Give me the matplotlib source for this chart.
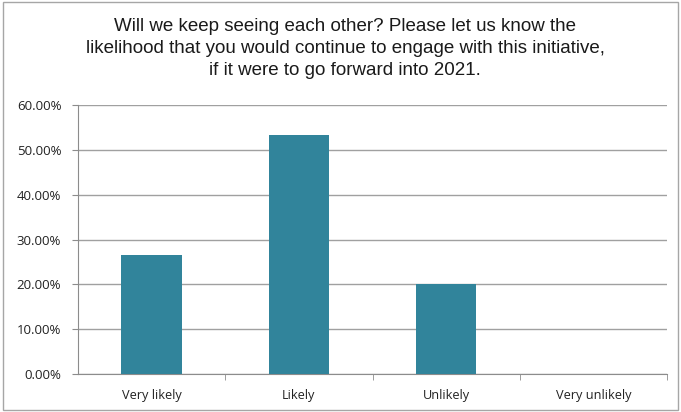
import matplotlib.pyplot as plt
from matplotlib.patches import Rectangle
from matplotlib.ticker import FuncFormatter, MultipleLocator

# Survey responses (share of respondents)
categories = ['Very likely', 'Likely', 'Unlikely', 'Very unlikely']
shares = [0.2667, 0.5333, 0.20, 0.0]

title = ('Will we keep seeing each other? Please let us know the\n'
         'likelihood that you would continue to engage with this initiative,\n'
         'if it were to go forward into 2021.')

fig = plt.figure(figsize=(6.81, 4.12), dpi=100)
ax = fig.add_axes([0.1145, 0.092, 0.865, 0.653])

# Light frame around the whole chart
fig.patches.append(Rectangle((0.004, 0.005), 0.992, 0.99, transform=fig.transFigure,
                             fill=False, edgecolor='#a6a6a6', linewidth=1.0))

fig.text(0.507, 0.882, title, ha='center', va='center', fontsize=13.5,
         family='Liberation Sans', linespacing=1.38, color='#1a1a1a')

x = range(len(categories))
ax.bar(x, shares, width=0.41, color='#31849B', zorder=3)

ax.set_xlim(-0.5, len(categories) - 0.5)
ax.set_ylim(0, 0.6)
ax.yaxis.set_major_locator(MultipleLocator(0.1))
ax.yaxis.set_major_formatter(FuncFormatter(lambda v, p: f'{v * 100:.2f}%'))
ax.grid(axis='y', color='#a0a0a0', linewidth=1.0, zorder=0)

ax.set_xticks(list(x))
ax.set_xticklabels(categories)
ax.set_xticks([i + 0.5 for i in range(len(categories))], minor=True)
ax.tick_params(axis='x', which='major', length=0, pad=11, labelsize=9.2, colors='#222222')
ax.tick_params(axis='x', which='minor', length=4, color='#8c8c8c')
ax.tick_params(axis='y', length=4, color='#8c8c8c', labelsize=9.5, labelcolor='#222222', pad=8)
for lbl in ax.get_xticklabels() + ax.get_yticklabels():
    lbl.set_family('Open Sans')

for side in ['top', 'right']:
    ax.spines[side].set_visible(False)
ax.spines['left'].set_color('#8c8c8c')
ax.spines['bottom'].set_color('#8c8c8c')

fig.savefig('out.png', dpi=100)
